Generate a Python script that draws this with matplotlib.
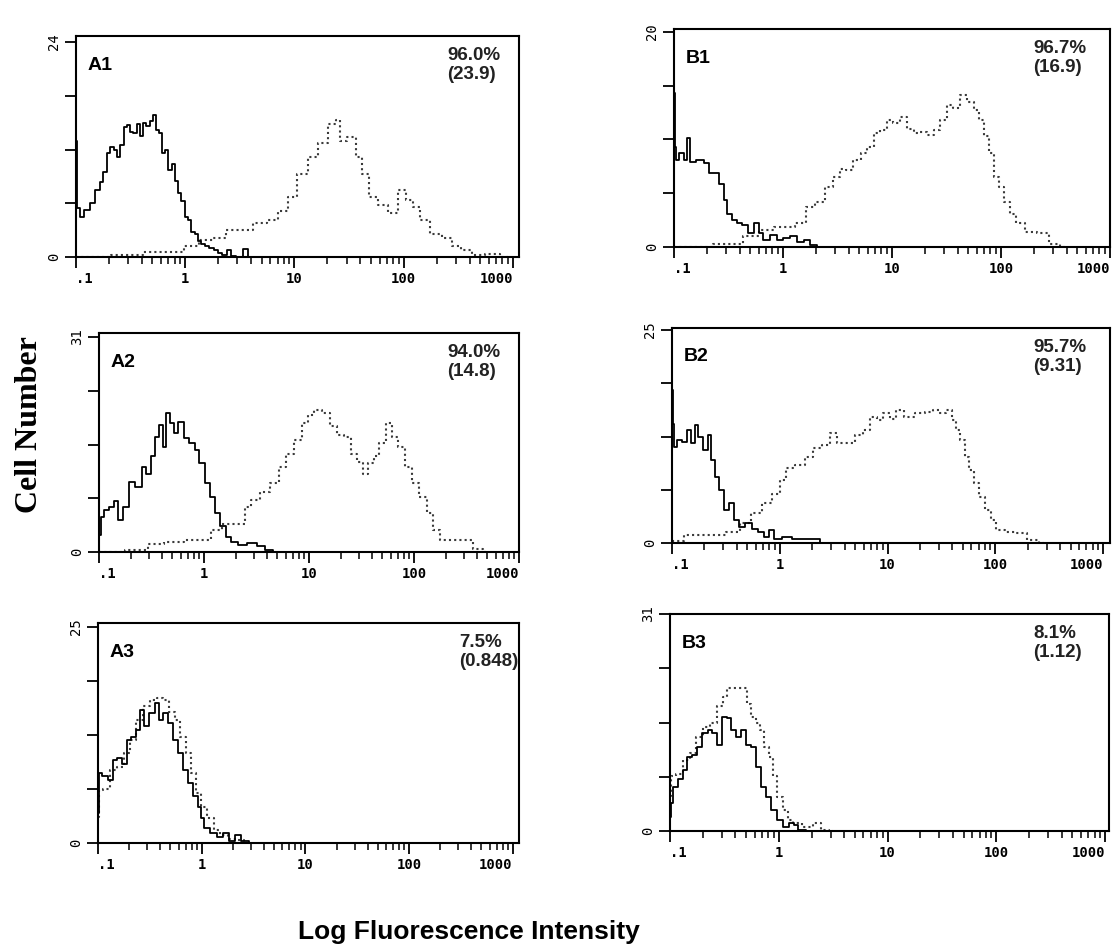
import numpy as np
import matplotlib
matplotlib.use('Agg')
import matplotlib.pyplot as plt
from matplotlib.ticker import FixedLocator, NullFormatter

# log10 fluorescence channel positions and cell counts
# solid = control histogram, dotted = stained histogram

a1_ctrl_log = [-1.0, -0.98, -0.95, -0.9, -0.85, -0.8, -0.77, -0.73, -0.7, -0.67, -0.64, -0.61, -0.58, -0.55,
               -0.52, -0.49, -0.46, -0.43, -0.4, -0.37, -0.34, -0.31, -0.28, -0.26, -0.23, -0.2, -0.17,
               -0.14, -0.11, -0.08, -0.05, -0.02, 0.01, 0.04, 0.07, 0.1, 0.13, 0.16, 0.2, 0.24, 0.28,
               0.32, 0.36, 0.4, 0.43, 0.5, 0.56, 0.58, 0.7]
a1_ctrl_cnt = [13.0, 5.5, 4.5, 5.2, 6.0, 7.5, 8.4, 9.5, 11.6, 12.3, 12.0, 11.2, 12.5, 14.5, 14.7, 14.0, 13.8,
               14.9, 13.5, 15.0, 14.6, 15.2, 15.8, 14.2, 13.8, 11.6, 12.0, 9.7, 10.4, 8.5, 7.1, 6.2, 4.5,
               4.1, 2.8, 2.6, 1.8, 1.5, 1.2, 1.0, 0.8, 0.4, 0.2, 0.8, 0.1, 0.0, 0.9, 0.0, 0.0]
a1_stain_log = [-1.0, -0.5, -0.3, -0.1, 0.06, 0.19, 0.31, 0.43, 0.55, 0.68, 0.8, 0.89, 0.98, 1.07, 1.17,
                1.26, 1.35, 1.4, 1.44, 1.52, 1.6, 1.64, 1.72, 1.81, 1.9, 1.99, 2.05, 2.12, 2.18, 2.3,
                2.39, 2.48, 2.57, 2.67, 2.81, 2.95]
a1_stain_cnt = [0.0, 0.2, 0.6, 0.6, 1.2, 1.9, 2.1, 3.0, 3.0, 3.75, 4.1, 5.1, 6.7, 9.3, 11.2, 12.7, 14.9,
                15.3, 13.0, 13.4, 11.2, 9.3, 6.7, 5.8, 4.9, 7.5, 6.4, 5.6, 4.1, 2.6, 2.1, 1.2, 0.8, 0.2,
                0.3, 0.0]

a2_ctrl_log = [-1.0, -0.97, -0.93, -0.88, -0.83, -0.8, -0.75, -0.69, -0.62, -0.57, -0.53, -0.48, -0.45,
               -0.4, -0.38, -0.35, -0.3, -0.27, -0.22, -0.17, -0.11, -0.06, -0.03, 0.04, 0.08, 0.13,
               0.18, 0.23, 0.29, 0.36, 0.45, 0.55, 0.61, 0.7]
a2_ctrl_cnt = [2.5, 5.1, 6.1, 6.5, 7.3, 4.6, 6.5, 10.1, 9.4, 12.3, 11.3, 13.8, 16.6, 18.3, 15.2, 20.0,
               18.6, 17.1, 18.8, 16.4, 15.7, 14.7, 12.8, 9.9, 8.0, 5.6, 3.7, 2.2, 1.5, 1.0, 1.25, 0.8,
               0.3, 0.0]
a2_stain_log = [-1.0, -0.6, -0.48, -0.3, -0.1, 0.04, 0.1, 0.23, 0.36, 0.42, 0.48, 0.58, 0.68, 0.74, 0.82,
                0.9, 0.97, 1.01, 1.08, 1.16, 1.24, 1.3, 1.37, 1.43, 1.49, 1.54, 1.59, 1.64, 1.7, 1.77,
                1.81, 1.88, 1.94, 2.01, 2.09, 2.15, 2.21, 2.28, 2.41, 2.53, 2.6, 2.7]
a2_stain_cnt = [0.0, 0.3, 1.2, 1.4, 1.7, 1.8, 3.2, 4.1, 4.1, 6.5, 7.5, 8.7, 9.9, 12.3, 14.2, 16.2, 18.6,
                19.8, 20.5, 20.0, 18.1, 16.9, 16.6, 14.2, 13.0, 11.3, 12.8, 13.8, 15.7, 18.6, 16.6, 15.2,
                12.3, 9.9, 8.0, 5.6, 3.2, 1.8, 1.7, 1.7, 0.5, 0.0]

a3_ctrl_log = [-1.0, -0.99, -0.93, -0.88, -0.84, -0.79, -0.74, -0.71, -0.66, -0.61, -0.58, -0.53, -0.48,
               -0.43, -0.39, -0.35, -0.3, -0.25, -0.21, -0.16, -0.11, -0.06, -0.02, 0.0, 0.05, 0.11,
               0.18, 0.23, 0.29, 0.35, 0.4, 0.5]
a3_ctrl_cnt = [3.5, 8.1, 7.7, 7.3, 9.6, 9.8, 9.2, 11.9, 12.3, 13.1, 15.4, 13.5, 15.0, 16.2, 14.2, 15.0,
               13.9, 11.9, 10.4, 8.5, 6.9, 5.4, 4.2, 2.9, 1.7, 1.1, 0.7, 1.1, 0.2, 0.9, 0.2, 0.0]
a3_stain_log = [-1.0, -0.98, -0.92, -0.85, -0.79, -0.72, -0.66, -0.6, -0.53, -0.47, -0.4, -0.34, -0.29,
                -0.23, -0.18, -0.13, -0.08, -0.03, 0.02, 0.08, 0.15, 0.21, 0.29, 0.37, 0.45]
a3_stain_cnt = [3.0, 6.1, 6.3, 8.5, 8.8, 10.4, 11.9, 14.2, 15.8, 16.6, 16.8, 16.6, 15.2, 14.2, 12.3, 10.4,
                8.1, 5.8, 4.2, 2.9, 1.5, 0.9, 0.5, 0.3, 0.0]

b1_ctrl_log = [-1.0, -0.99, -0.98, -0.93, -0.89, -0.87, -0.83, -0.76, -0.7, -0.66, -0.61, -0.56, -0.53,
               -0.49, -0.44, -0.4, -0.35, -0.3, -0.24, -0.21, -0.15, -0.09, -0.03, 0.03, 0.09, 0.16,
               0.22, 0.28, 0.35]
b1_ctrl_cnt = [14.3, 9.3, 8.1, 8.7, 8.1, 10.1, 7.9, 8.1, 7.8, 6.9, 6.9, 5.9, 4.4, 3.1, 2.5, 2.2, 2.0, 1.3,
               2.2, 1.3, 0.65, 1.1, 0.65, 0.8, 1.0, 0.5, 0.65, 0.2, 0.0]
b1_stain_log = [-1.0, -0.45, -0.3, -0.15, -0.03, 0.06, 0.16, 0.25, 0.34, 0.43, 0.49, 0.55, 0.61, 0.68,
                0.74, 0.8, 0.86, 0.92, 0.98, 1.04, 1.11, 1.17, 1.23, 1.29, 1.35, 1.41, 1.47, 1.53, 1.59,
                1.66, 1.72, 1.78, 1.82, 1.87, 1.91, 1.96, 2.0, 2.05, 2.11, 2.17, 2.27, 2.39, 2.48, 2.6]
b1_stain_cnt = [0.0, 0.3, 1.0, 1.6, 1.9, 1.9, 2.2, 3.75, 4.2, 5.6, 6.5, 7.3, 7.2, 8.1, 8.7, 9.3, 10.6,
                10.9, 11.8, 11.5, 12.1, 11.0, 10.6, 10.7, 10.4, 10.9, 11.8, 13.2, 12.9, 14.1, 13.5, 12.7,
                11.8, 10.3, 8.7, 6.5, 5.6, 4.2, 3.1, 2.2, 1.4, 1.3, 0.3, 0.0]

b2_ctrl_log = [-1.0, -0.99, -0.98, -0.93, -0.88, -0.85, -0.8, -0.77, -0.74, -0.69, -0.65, -0.62, -0.59,
               -0.54, -0.49, -0.45, -0.4, -0.36, -0.29, -0.23, -0.17, -0.12, -0.08, -0.02, 0.06, 0.16,
               0.34, 0.4]
b2_ctrl_cnt = [18.0, 14.0, 11.3, 12.1, 11.9, 13.3, 11.7, 13.8, 12.5, 10.9, 12.7, 9.7, 7.8, 6.2, 3.9, 4.7,
               2.7, 1.9, 2.3, 1.7, 1.3, 0.7, 1.5, 0.5, 0.7, 0.5, 0.5, 0.0]
b2_stain_log = [-1.0, -0.8, -0.59, -0.43, -0.31, -0.22, -0.12, -0.03, 0.03, 0.09, 0.18, 0.28, 0.34, 0.43,
                0.5, 0.56, 0.65, 0.74, 0.8, 0.87, 0.93, 0.99, 1.05, 1.11, 1.2, 1.3, 1.39, 1.45, 1.51,
                1.58, 1.62, 1.65, 1.7, 1.73, 1.78, 1.83, 1.87, 1.93, 1.98, 2.04, 2.13, 2.24, 2.35, 2.45]
b2_stain_cnt = [0.2, 0.9, 0.9, 1.3, 2.3, 3.5, 4.7, 5.8, 7.4, 8.8, 9.2, 10.1, 11.1, 11.5, 12.9, 11.7, 11.7,
                12.7, 13.3, 14.8, 14.4, 15.2, 14.6, 15.6, 14.8, 15.2, 15.4, 15.6, 15.2, 15.6, 14.4, 13.3,
                12.1, 10.1, 8.6, 7.0, 5.4, 3.9, 2.7, 1.5, 1.3, 1.2, 0.35, 0.0]

b3_ctrl_log = [-1.0, -0.99, -0.95, -0.91, -0.86, -0.82, -0.77, -0.73, -0.68, -0.63, -0.59, -0.54, -0.5,
               -0.46, -0.42, -0.37, -0.33, -0.28, -0.23, -0.19, -0.14, -0.1, -0.05, 0.01, 0.07, 0.12,
               0.16, 0.2, 0.3]
b3_ctrl_cnt = [2.0, 4.0, 6.3, 7.5, 8.7, 10.6, 10.9, 12.0, 14.0, 14.4, 14.0, 12.3, 16.3, 16.1, 14.4, 13.5,
               14.4, 12.3, 12.0, 9.2, 6.3, 4.9, 3.0, 1.6, 0.6, 1.1, 0.9, 0.15, 0.0]
b3_stain_log = [-1.0, -0.98, -0.91, -0.85, -0.79, -0.73, -0.66, -0.6, -0.54, -0.49, -0.46, -0.42, -0.36,
                -0.31, -0.28, -0.23, -0.19, -0.16, -0.11, -0.07, -0.04, 0.01, 0.06, 0.1, 0.16, 0.26,
                0.36, 0.42, 0.5]
b3_stain_cnt = [5.0, 7.8, 8.2, 10.1, 11.1, 13.5, 14.9, 15.4, 17.8, 19.2, 20.4, 20.4, 20.4, 20.4, 18.2,
                16.3, 15.4, 14.4, 12.0, 10.6, 7.8, 4.9, 3.0, 1.6, 1.1, 0.6, 1.1, 0.2, 0.0]

panel_names = ['A1', 'A2', 'A3', 'B1', 'B2', 'B3']
percent_pos = ['96.0%', '94.0%', '7.5%', '96.7%', '95.7%', '8.1%']
mean_fl = ['(23.9)', '(14.8)', '(0.848)', '(16.9)', '(9.31)', '(1.12)']
y_max = [24, 31, 25, 20, 25, 31]

curves = [
    (a1_ctrl_log, a1_ctrl_cnt, a1_stain_log, a1_stain_cnt),
    (a2_ctrl_log, a2_ctrl_cnt, a2_stain_log, a2_stain_cnt),
    (a3_ctrl_log, a3_ctrl_cnt, a3_stain_log, a3_stain_cnt),
    (b1_ctrl_log, b1_ctrl_cnt, b1_stain_log, b1_stain_cnt),
    (b2_ctrl_log, b2_ctrl_cnt, b2_stain_log, b2_stain_cnt),
    (b3_ctrl_log, b3_ctrl_cnt, b3_stain_log, b3_stain_cnt),
]

W, H = 1114, 951
# pixel frame: left, right, top, zero line, pixel row of the top tick, x max, text x
frames = [
    (76, 519, 36, 257, 42, 1135, 447),
    (99, 519, 333, 552, 337, 1000, 447),
    (98, 519, 623, 843, 627, 1150, 459),
    (674, 1110, 29, 247, 32, 1000, 1033),
    (672, 1110, 328, 543, 330, 1160, 1033),
    (670, 1109, 614, 831, 614, 1085, 1033),
]

fig = plt.figure(figsize=(W / 100, H / 100), dpi=100)
fig.patch.set_facecolor('white')

mono = 'DejaVu Sans Mono'

for i in range(6):
    l, r, t, b, ytp, xmax, tx = frames[i]
    ax = fig.add_axes([l / W, 1 - b / H, (r - l) / W, (b - t) / H])
    cl, cc, sl, sc = curves[i]
    ax.plot(10 ** np.array(sl), sc, drawstyle='steps-mid', color='#3a3a3a',
            lw=1.5, linestyle=(0, (1, 1.5)))
    ax.plot(10 ** np.array(cl), cc, drawstyle='steps-mid', color='black', lw=1.3)

    m = y_max[i]
    ax.set_xscale('log')
    ax.set_xlim(0.1, xmax)
    ax.set_ylim(0, m * (b - t) / (b - ytp))

    ax.set_xticks([0.1, 1, 10, 100, 1000])
    xl = ax.set_xticklabels(['.1', '1', '10', '100', '1000'], fontfamily=mono,
                            fontsize=10, fontweight='bold')
    xl[0].set_horizontalalignment('left')
    xl[-1].set_horizontalalignment('right')
    minors = [k * d for d in [0.1, 1, 10, 100] for k in range(2, 10)]
    ax.xaxis.set_minor_locator(FixedLocator([v for v in minors if v < xmax]))
    ax.xaxis.set_minor_formatter(NullFormatter())

    ax.set_yticks([0, m / 4, m / 2, 3 * m / 4, m])
    ax.set_yticklabels(['0', '', '', '', str(m)], fontfamily=mono, fontsize=10,
                       rotation=90, va='center')

    ax.tick_params(axis='both', which='major', direction='out', length=8, width=1.3, pad=3)
    ax.tick_params(axis='x', which='minor', direction='out', length=5, width=1.1)
    for s in ax.spines.values():
        s.set_linewidth(1.5)

    ax.text(0.027, 0.905, panel_names[i], transform=ax.transAxes, ha='left', va='top',
            fontsize=14, fontweight='bold', family='Liberation Sans')
    ax.text((tx - l) / (r - l), 0.95, percent_pos[i] + '\n' + mean_fl[i], transform=ax.transAxes,
            ha='left', va='top', fontsize=13.5, fontweight='bold', family='Liberation Sans',
            color='#222222', linespacing=1.15)

fig.text(30 / W, 1 - 425 / H, 'Cell Number', rotation=90, ha='center', va='center',
         fontsize=23, fontweight='bold', family='Liberation Serif')
fig.text(469 / W, 1 - 932 / H, 'Log Fluorescence Intensity', ha='center', va='center',
         fontsize=19, fontweight='bold', family='Liberation Sans')

plt.savefig('out.png', dpi=100)
